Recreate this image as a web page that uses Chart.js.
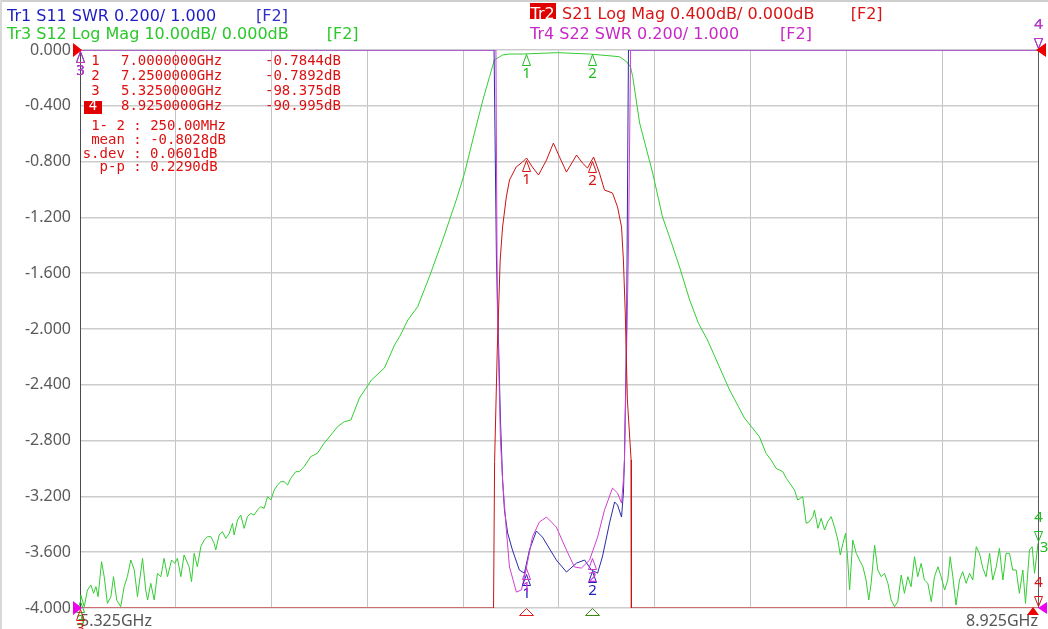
<!DOCTYPE html>
<html><head><meta charset="utf-8">
<script src="https://cdn.jsdelivr.net/npm/chart.js@4.4.1/dist/chart.umd.min.js"></script>
<style>
html,body{margin:0;padding:0;background:#fff;}
#wrap{position:relative;width:1048px;height:629px;overflow:hidden;background:#fff;}
#wrap canvas{position:absolute;left:0;top:0;}
.t{position:absolute;white-space:pre;font-family:"DejaVu Sans",sans-serif;font-size:16px;line-height:20px;pointer-events:none;}
.m{position:absolute;white-space:pre;font-family:"DejaVu Sans Mono",monospace;font-size:14px;line-height:15px;color:#dd1111;pointer-events:none;}
.box{position:absolute;background:#e00000;}
</style></head><body>
<div id="wrap">
<canvas id="c"></canvas>
<div style="position:absolute;left:0;top:0;width:1048px;height:2px;background:#cfcfcf"></div>
<div style="position:absolute;left:0;top:0;width:2px;height:629px;background:#d8d8d8"></div>
<div class="t" style="left:7px;top:6.1px;color:#1c1cc4">Tr1 S11 SWR 0.200/ 1.000</div>
<div class="t" style="left:256px;top:6.1px;color:#3030c8">[F2]</div>
<div class="t" style="left:7px;top:24.4px;color:#2ac82a">Tr3 S12 Log Mag 10.00dB/ 0.000dB</div>
<div class="t" style="left:326.7px;top:24.4px;color:#2ac82a">[F2]</div>
<div class="box" style="left:530px;top:3px;width:26px;height:16px"></div>
<div class="t" style="left:530.5px;top:4.4px;color:#fff">Tr2</div>
<div class="t" style="left:562px;top:4.4px;color:#d81414">S21 Log Mag 0.400dB/ 0.000dB</div>
<div class="t" style="left:850.7px;top:4.4px;color:#d81414">[F2]</div>
<div class="t" style="left:530px;top:23.7px;color:#c828c8">Tr4 S22 SWR 0.200/ 1.000</div>
<div class="t" style="left:780px;top:23.7px;color:#c828c8">[F2]</div>

<div class="m" style="left:91.2px;top:52.6px">1</div>
<div class="m" style="left:121px;top:52.6px">7.0000000GHz</div>
<div class="m" style="left:265px;top:52.6px">-0.7844dB</div>
<div class="m" style="left:91.2px;top:67.6px">2</div>
<div class="m" style="left:121px;top:67.6px">7.2500000GHz</div>
<div class="m" style="left:265px;top:67.6px">-0.7892dB</div>
<div class="m" style="left:91.2px;top:82.6px">3</div>
<div class="m" style="left:121px;top:82.6px">5.3250000GHz</div>
<div class="m" style="left:265px;top:82.6px">-98.375dB</div>
<div class="box" style="left:84px;top:101px;width:17.5px;height:12.5px"></div>
<div class="m" style="left:88.8px;top:98.3px;color:#fff">4</div>
<div class="m" style="left:121px;top:98.3px">8.9250000GHz</div>
<div class="m" style="left:265px;top:98.3px">-90.995dB</div>
<div class="m" style="left:91.2px;top:117.6px">1- 2 : 250.00MHz</div>
<div class="m" style="left:91.2px;top:131.6px">mean : -0.8028dB</div>
<div class="m" style="left:82.7px;top:145.6px">s.dev : 0.0601dB</div>
<div class="m" style="left:99.6px;top:159.3px">p-p : 0.2290dB</div>
</div>
<script>
// ---------- axis definition ----------
const xGridGHz = [5.325, 5.685, 6.045, 6.405, 6.765, 7.125, 7.485, 7.845, 8.205, 8.565, 8.925];
const xEdgeLabels = ['5.325GHz', '8.925GHz'];
const yTicksDb = [0, -0.4, -0.8, -1.2, -1.6, -2.0, -2.4, -2.8, -3.2, -3.6, -4.0];

// ---------- Tr2 S21 (dB, 0.4 dB/div, shown clamped at -4 dB) ----------
const s21Freq = [5.325, 6.879, 6.883, 6.893, 6.904, 6.913, 6.927, 6.939, 6.964, 6.988, 7.003, 7.025, 7.048, 7.078, 7.104, 7.127, 7.153, 7.191, 7.213, 7.232, 7.255, 7.277, 7.296, 7.326, 7.345, 7.360, 7.367, 7.374, 7.382, 7.396, 7.397, 8.925];
const s21Db   = [-4.0, -4.0, -2.95, -2.15, -1.505, -1.269, -1.054, -0.932, -0.839, -0.803, -0.774, -0.839, -0.896, -0.789, -0.667, -0.767, -0.875, -0.753, -0.810, -0.846, -0.767, -0.882, -1.004, -1.025, -1.125, -1.269, -1.505, -1.885, -2.509, -2.939, -4.0, -4.0];

// ---------- Tr1 S11 SWR (0.2/div, shown clamped at 3.0) ----------
const s11Freq = [5.325, 6.881, 6.890, 6.905, 6.913, 6.920, 6.932, 6.950, 6.976, 6.995, 7.014, 7.040, 7.063, 7.115, 7.153, 7.191, 7.221, 7.247, 7.270, 7.288, 7.315, 7.334, 7.345, 7.360, 7.367, 7.371, 7.379, 7.386, 8.925];
const s11Swr  = [3.0, 3.0, 2.247, 1.674, 1.459, 1.351, 1.269, 1.208, 1.136, 1.125, 1.208, 1.276, 1.254, 1.172, 1.129, 1.161, 1.172, 1.136, 1.125, 1.183, 1.305, 1.380, 1.369, 1.326, 1.412, 1.530, 1.996, 3.0, 3.0];

// ---------- Tr4 S22 SWR ----------
const s22Freq = [5.325, 6.888, 6.893, 6.905, 6.913, 6.928, 6.939, 6.965, 6.984, 7.003, 7.025, 7.051, 7.078, 7.115, 7.153, 7.183, 7.209, 7.240, 7.270, 7.296, 7.326, 7.345, 7.360, 7.367, 7.371, 7.386, 7.394, 8.925];
const s22Swr  = [3.0, 3.0, 2.104, 1.602, 1.459, 1.269, 1.147, 1.057, 1.065, 1.147, 1.254, 1.308, 1.326, 1.290, 1.208, 1.147, 1.143, 1.172, 1.254, 1.351, 1.430, 1.412, 1.376, 1.459, 1.530, 2.283, 3.0, 3.0];

// ---------- Tr3 S12 (dB, 10 dB/div) ----------
const s12Freq = [5.325, 5.328, 5.341, 5.353, 5.366, 5.376, 5.385, 5.393, 5.406, 5.416, 5.428, 5.441, 5.451, 5.463, 5.478, 5.491, 5.503, 5.516, 5.529, 5.541, 5.560, 5.572, 5.579, 5.591, 5.604, 5.616, 5.629, 5.641, 5.654, 5.669, 5.681, 5.691, 5.704, 5.716, 5.735, 5.744, 5.754, 5.766, 5.779, 5.792, 5.804, 5.817, 5.829, 5.835, 5.848, 5.860, 5.873, 5.886, 5.898, 5.904, 5.917, 5.929, 5.942, 5.954, 5.967, 5.979, 5.992, 6.004, 6.017, 6.030, 6.042, 6.055, 6.067, 6.080, 6.092, 6.105, 6.117, 6.136, 6.149, 6.167, 6.192, 6.217, 6.242, 6.268, 6.293, 6.318, 6.343,
  6.375, 6.420, 6.469, 6.507, 6.526, 6.557, 6.594, 6.638, 6.688, 6.739, 6.770, 6.807, 6.839, 6.864, 6.882, 6.901, 6.913, 6.939, 6.988, 7.119, 7.240, 7.352, 7.379, 7.394, 7.402, 7.428, 7.477, 7.514, 7.540, 7.578, 7.616, 7.649, 7.683, 7.766, 7.822,
  7.878, 7.903, 7.922, 7.941, 7.966, 7.979, 7.997, 8.010, 8.022, 8.041, 8.054, 8.066, 8.079, 8.085, 8.098, 8.110, 8.123, 8.135, 8.148, 8.160, 8.173, 8.182, 8.192, 8.202, 8.210, 8.217, 8.229, 8.242, 8.254, 8.267, 8.279, 8.289, 8.298, 8.311, 8.323, 8.336, 8.348, 8.361, 8.373, 8.386, 8.398, 8.411, 8.423, 8.436, 8.448, 8.461, 8.473, 8.486, 8.498, 8.511, 8.524, 8.536, 8.549, 8.561, 8.574, 8.586, 8.595, 8.605, 8.617, 8.630, 8.642, 8.655, 8.668, 8.680, 8.693, 8.705, 8.718, 8.730, 8.743, 8.755, 8.768, 8.780, 8.793, 8.805, 8.818, 8.830, 8.843, 8.855, 8.868, 8.878, 8.893, 8.903, 8.912, 8.918, 8.925];
const s12Db = [-98.57, -97.67, -99.76, -96.78, -95.88, -97.37, -96.18, -97.97, -91.70, -94.39, -99.17, -97.97, -94.39, -98.57, -99.76, -96.18, -94.39, -91.40, -93.19, -97.97, -91.10, -96.78, -98.57, -95.58, -98.57, -93.79, -94.39, -91.10, -94.39, -91.40, -92.00, -91.10, -94.39, -90.50, -92.60, -95.28, -90.21, -92.60, -89.01, -87.82, -87.22, -87.22, -88.41, -89.61, -86.92, -86.32, -87.52, -86.62, -84.83, -86.92, -84.23, -83.34, -85.73, -83.63, -83.04, -83.34, -82.44, -81.84, -82.14, -80.05, -80.65, -78.86, -77.96, -77.36, -77.36, -77.96, -76.76, -75.57, -75.57, -74.67, -72.88, -72.28, -70.49, -69.00, -67.50, -66.61, -66.31,
  -62.37, -59.14, -56.99, -52.87, -51.38, -48.39, -46.00, -40.62, -34.05, -26.88, -22.10, -14.93, -8.96, -4.78, -1.79, -1.25, -0.90, -0.72, -0.72, -0.48, -0.72, -1.20, -2.10, -3.05, -4.78, -13.08, -22.04, -29.93, -33.46, -38.89, -44.80, -48.98, -51.97, -60.93, -65.95,
  -69.30, -72.28, -73.48, -74.97, -75.57, -76.76, -77.96, -78.86, -80.65, -80.05, -84.83, -84.53, -83.63, -82.44, -85.73, -83.93, -86.02, -84.53, -83.63, -85.43, -87.82, -90.50, -88.41, -86.62, -91.40, -96.78, -87.82, -90.21, -91.40, -92.60, -94.99, -98.57, -95.58, -88.71, -93.19, -94.39, -93.79, -95.58, -98.57, -99.76, -98.87, -94.09, -97.37, -94.39, -96.18, -90.80, -94.39, -92.00, -94.99, -95.58, -98.87, -94.39, -92.60, -94.39, -96.78, -94.99, -90.80, -94.39, -99.47, -94.99, -93.49, -95.58, -93.79, -94.99, -89.01, -90.21, -92.89, -94.39, -90.21, -94.99, -92.60, -89.31, -94.99, -90.21, -90.21, -93.19, -93.19, -97.37, -93.19, -99.17, -89.61, -89.01, -93.79, -91.40, -88.41];

// ---------- markers ----------
const markerFreqGHz = [7.0, 7.25, 5.325, 8.925];
const markerLabels  = ['1', '2', '3', '4'];
const s21MarkerDb   = [-0.7844, -0.7892, -98.375, -90.995];
const s12MarkerDb   = [-0.62, -0.62, -98.57, -88.41];
const s11MarkerSwr  = [1.125, 1.136, 3.0, 3.0];
const s22MarkerSwr  = [1.147, 1.183, 3.0, 3.0];

const C_RED = '#c81414', C_GREEN = '#33cc33', C_BLUE = '#2a2aaa', C_MAG = '#d040d0';

function pts(xs, ys) { return xs.map((x, i) => ({ x: x, y: ys[i] })); }

function tri(ctx, p, color, fill) {
  ctx.beginPath();
  ctx.moveTo(p[0][0], p[0][1]); ctx.lineTo(p[1][0], p[1][1]); ctx.lineTo(p[2][0], p[2][1]); ctx.closePath();
  if (fill) { ctx.fillStyle = color; ctx.fill(); }
  else { ctx.strokeStyle = color; ctx.lineWidth = 1; ctx.stroke(); }
}

const vnaPlugin = {
  id: 'vna',
  afterDatasetsDraw(chart) {
    const { ctx, chartArea: a, scales } = chart;
    const xs = scales.x;
    ctx.save();
    // right frame edge
    const rx = Math.round(a.right) + 0.5;
    ctx.strokeStyle = '#5a5a5a'; ctx.lineWidth = 1;
    ctx.beginPath(); ctx.moveTo(rx, a.top); ctx.lineTo(rx, a.bottom); ctx.stroke();

    const clampY = y => Math.min(a.bottom, Math.max(a.top, y));
    const sets = [
      { s: scales.yS12, v: s12MarkerDb, c: '#22bb22' },
      { s: scales.ySWR, v: s11MarkerSwr, c: '#2020c0' },
      { s: scales.ySWR, v: s22MarkerSwr, c: '#cc33cc' },
      { s: scales.y, v: s21MarkerDb, c: '#d81414' }
    ];
    ctx.font = '15px "Noto Sans", sans-serif';
    ctx.textAlign = 'center'; ctx.textBaseline = 'middle';
    sets.forEach(set => {
      set.v.forEach((val, i) => {
        const x = Math.round(xs.getPixelForValue(markerFreqGHz[i])) + 0.5;
        const y = Math.round(clampY(set.s.getPixelForValue(val))) + 0.5;
        if (i < 3) {
          tri(ctx, [[x, y + 1], [x - 4, y + 12], [x + 4, y + 12]], set.c, false);
          ctx.fillStyle = set.c; ctx.fillText(markerLabels[i], x, y + 20);
        } else {
          tri(ctx, [[x, y - 2], [x - 4, y - 12], [x + 4, y - 12]], set.c, false);
          ctx.fillStyle = set.c; ctx.fillText(markerLabels[i], x, y - 26);
        }
      });
    });
    // green reference glyph at right edge
    ctx.fillStyle = '#22bb22';
    ctx.fillText('3', a.right + 6, clampY(scales.yS12.getPixelForValue(s12MarkerDb[3])) + 4);

    // stimulus triangles under the axis
    const b = Math.round(a.bottom) + 0.5;
    const x1 = Math.round(xs.getPixelForValue(markerFreqGHz[0])) + 0.5;
    const x2 = Math.round(xs.getPixelForValue(markerFreqGHz[1])) + 0.5;
    tri(ctx, [[x1, b], [x1 - 7, b + 7], [x1 + 7, b + 7]], '#e02020', false);
    tri(ctx, [[x2, b], [x2 - 7, b + 7], [x2 + 7, b + 7]], '#3a8a10', false);

    // reference level indicators
    const L = a.left, R = a.right, T = a.top, B = a.bottom;
    tri(ctx, [[L + 2, T], [L - 7, T - 7], [L - 7, T + 7]], '#ee0000', true);
    tri(ctx, [[L + 2, B], [L - 7, B - 7], [L - 7, B + 7]], '#ee00ee', true);
    tri(ctx, [[R - 2, T], [R + 8, T - 7], [R + 8, T + 7]], '#ee0000', true);
    tri(ctx, [[R - 5, B - 1], [R - 11, B + 7], [R + 1, B + 7]], '#ee0000', true);
    tri(ctx, [[R, B], [R + 9, B - 6], [R + 9, B + 6]], '#ee00ee', true);
    ctx.restore();
  }
};

new Chart(document.getElementById('c'), {
  type: 'line',
  data: {
    datasets: [
      { label: 'Tr2 S21', data: pts(s21Freq, s21Db), yAxisID: 'y', borderColor: C_RED, order: 0 },
      { label: 'Tr4 S22', data: pts(s22Freq, s22Swr), yAxisID: 'ySWR', borderColor: C_MAG, order: 1 },
      { label: 'Tr1 S11', data: pts(s11Freq, s11Swr), yAxisID: 'ySWR', borderColor: C_BLUE, order: 2 },
      { label: 'Tr3 S12', data: pts(s12Freq, s12Db), yAxisID: 'yS12', borderColor: C_GREEN, order: 3 }
    ]
  },
  options: {
    responsive: true,
    maintainAspectRatio: false,
    animation: false,
    layout: { padding: { top: 50, right: 10, bottom: 0, left: 0 } },
    elements: {
      point: { radius: 0, hoverRadius: 0 },
      line: { borderWidth: 1, tension: 0, fill: false }
    },
    plugins: { legend: { display: false }, tooltip: { enabled: false }, title: { display: false } },
    scales: {
      x: {
        type: 'linear', min: xGridGHz[0], max: xGridGHz[xGridGHz.length - 1],
        afterBuildTicks: s => { s.ticks = xGridGHz.map(v => ({ value: v })); },
        afterFit: s => { s.height = 21; },
        grid: { color: '#c4c4c4', drawTicks: false },
        border: { display: false },
        ticks: {
          autoSkip: false, maxRotation: 0, minRotation: 0, align: 'inner', padding: 4,
          color: '#555555', font: { family: 'Noto Sans', size: 16 },
          callback: (v, i, t) => i === 0 ? xEdgeLabels[0] : (i === t.length - 1 ? xEdgeLabels[1] : '')
        }
      },
      y: {
        type: 'linear', position: 'left', min: yTicksDb[yTicksDb.length - 1], max: yTicksDb[0],
        afterBuildTicks: s => { s.ticks = yTicksDb.map(v => ({ value: v })); },
        afterFit: s => { s.width = 80; },
        grid: { color: '#cccccc', lineWidth: 1.5, drawTicks: false },
        border: { display: true, color: '#4a4a4a', width: 1 },
        ticks: {
          padding: 9, color: '#5a5a5a', font: { family: 'Noto Sans', size: 16 },
          callback: v => v.toFixed(3)
        }
      },
      yS12: { type: 'linear', display: false, min: -100, max: 0 },
      ySWR: { type: 'linear', display: false, min: 1, max: 3 }
    }
  },
  plugins: [vnaPlugin]
});
</script>
</body></html>
